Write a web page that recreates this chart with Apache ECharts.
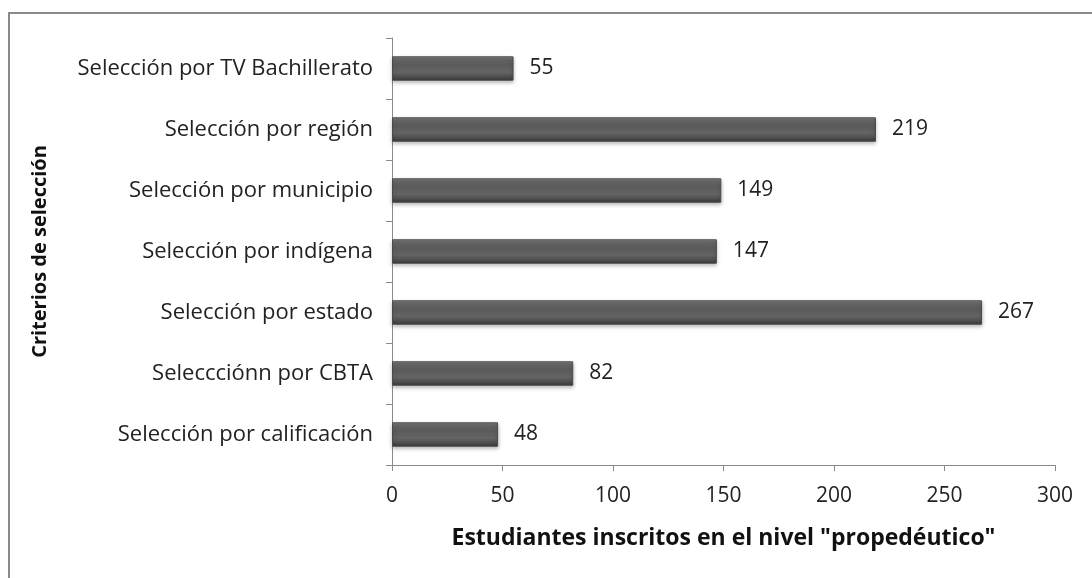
<!DOCTYPE html>
<html>
<head>
<meta charset="utf-8">
<script src="https://cdn.jsdelivr.net/npm/echarts@6/dist/echarts.min.js"></script>
<style>
  html, body { margin: 0; padding: 0; background: #fff; }
  #chart { width: 1092px; height: 578px; }
</style>
</head>
<body>
<div id="chart"></div>
<script>
// categorías (de abajo hacia arriba, como en el eje)
var categories = [
  "Selección por calificación",
  "Seleccciónn por CBTA",
  "Selección por estado",
  "Selección por indígena",
  "Selección por municipio",
  "Selección por región",
  "Selección por TV Bachillerato"
];
var values = [48, 82, 267, 147, 149, 219, 55];
var xTicks = [0, 50, 100, 150, 200, 250, 300];

var font = "Open Sans";
var chart = echarts.init(document.getElementById("chart"));

chart.setOption({
  animation: false,
  textStyle: { fontFamily: font },
  grid: { left: 392, right: 37, top: 38, bottom: 113 },
  graphic: [
    {
      type: "polyline",
      shape: { points: [[9, 578], [9, 13], [1092, 13]] },
      style: { stroke: "#8a8a8a", lineWidth: 2, fill: null }
    }
  ],
  xAxis: {
    type: "value",
    min: xTicks[0],
    max: xTicks[xTicks.length - 1],
    interval: 50,
    name: 'Estudiantes inscritos en el nivel "propedéutico"',
    nameLocation: "middle",
    nameGap: 62,
    nameTextStyle: { fontFamily: font, fontWeight: "bold", fontSize: 23, color: "#111" },
    axisLine: { show: true, lineStyle: { color: "#8a8a8a", width: 1 } },
    axisTick: { show: true, length: 6, lineStyle: { color: "#8a8a8a" } },
    axisLabel: { fontFamily: font, fontSize: 21, color: "#222", margin: 21 },
    splitLine: { show: false }
  },
  yAxis: {
    type: "category",
    data: categories,
    name: "Criterios de selección",
    nameLocation: "middle",
    nameGap: 342,
    nameRotate: 90,
    nameTextStyle: { fontFamily: font, fontWeight: "bold", fontSize: 20, color: "#111" },
    axisLine: { show: true, lineStyle: { color: "#8a8a8a", width: 1 } },
    axisTick: { show: true, length: 6, lineStyle: { color: "#8a8a8a" } },
    axisLabel: { fontFamily: font, fontSize: 22, color: "#222", margin: 19 }
  },
  series: [
    {
      type: "bar",
      data: values,
      barWidth: "40%",
      itemStyle: {
        color: new echarts.graphic.LinearGradient(0, 0, 0, 1, [
          { offset: 0, color: "#8e8e8e" },
          { offset: 0.1, color: "#6a6a6a" },
          { offset: 0.35, color: "#5a5a5a" },
          { offset: 0.65, color: "#646464" },
          { offset: 0.88, color: "#4a4a4a" },
          { offset: 1, color: "#333333" }
        ]),
        borderColor: "#4a4a4a",
        borderWidth: 1,
        shadowColor: "rgba(0,0,0,0.3)",
        shadowBlur: 4,
        shadowOffsetY: 2
      },
      label: {
        show: true,
        position: "right",
        distance: 16,
        fontFamily: font,
        fontSize: 21,
        color: "#222"
      }
    }
  ]
});
</script>
</body>
</html>
